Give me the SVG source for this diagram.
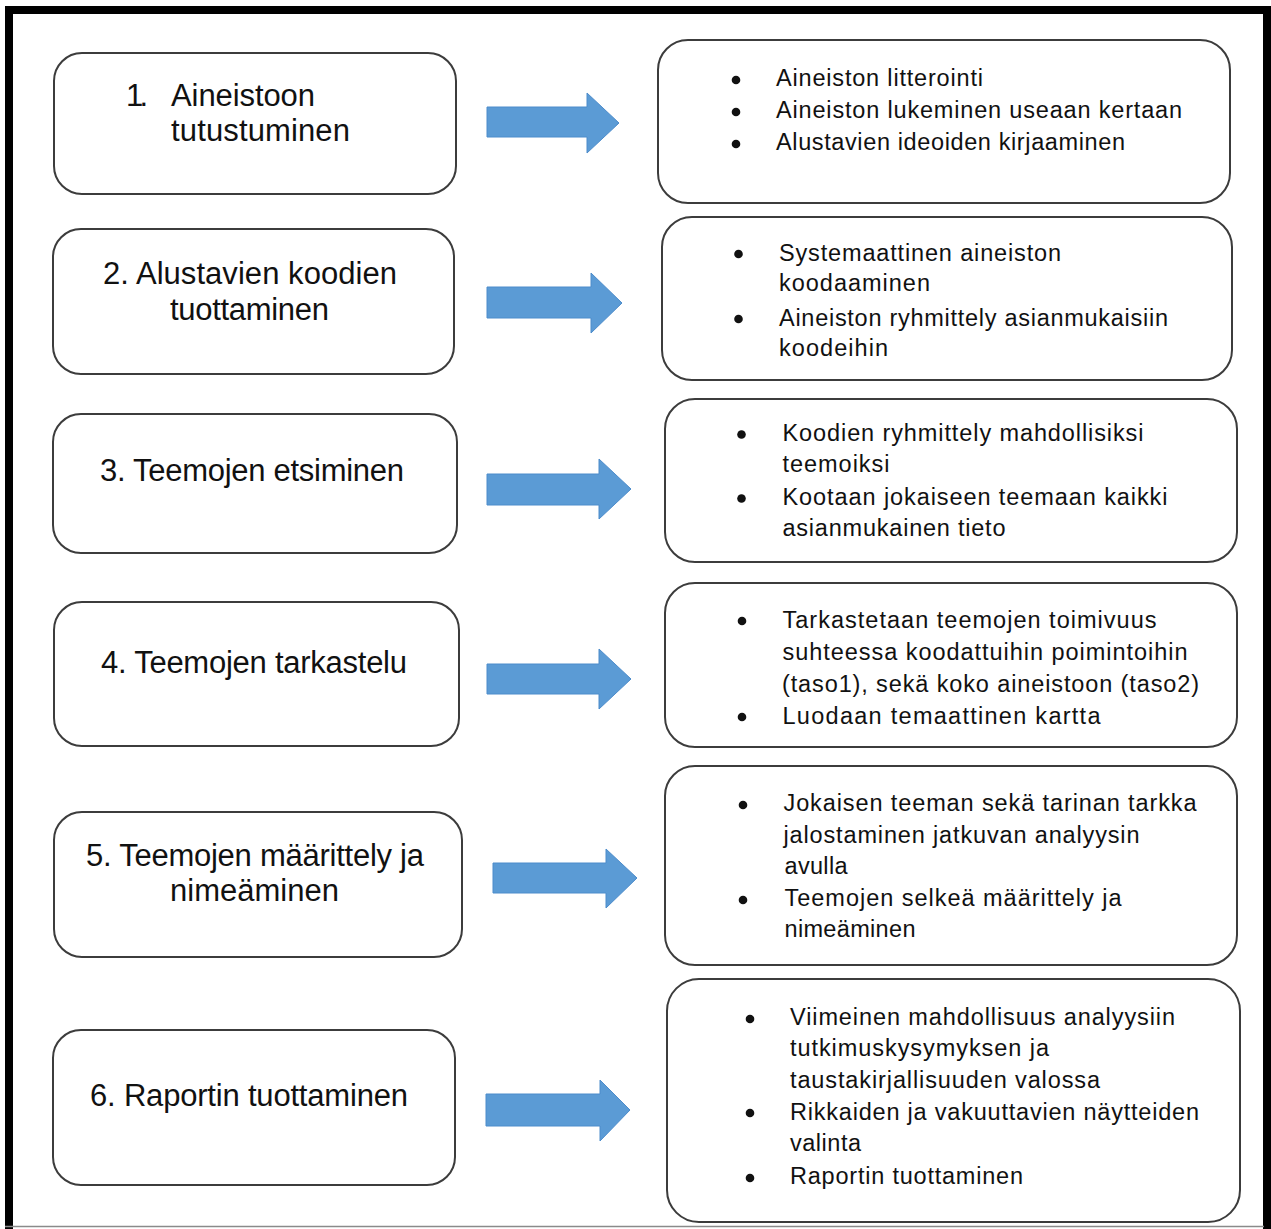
<svg xmlns="http://www.w3.org/2000/svg" width="1271" height="1229" viewBox="0 0 1271 1229">
<style>
.box{fill:#fff;stroke:#3c3c3c;stroke-width:2}
.arr{fill:#5b9bd5;stroke:#4d8ccb;stroke-width:1}
.lt{font-family:"Liberation Sans",Arial,sans-serif;font-size:31px;fill:#111}
.rt{font-family:"Liberation Sans",Arial,sans-serif;font-size:23.5px;fill:#111}
.bul{fill:#111}
</style>
<rect x="0" y="0" width="1271" height="1229" fill="#fff"/>
<g id="frame">
<path d="M9,1229 V10 H1267 V1229" fill="none" stroke="#000" stroke-width="8"/>
<line x1="5" y1="1226.5" x2="1264" y2="1226.5" stroke="#8a8a8a" stroke-width="1.5"/>
</g>
<g id="connectors">
<polygon class="arr" points="487,107 587,107 587,93 619,123 587,153 587,137 487,137"/>
<polygon class="arr" points="487,287 591,287 591,273 622,303 591,333 591,318 487,318"/>
<polygon class="arr" points="487,474 599,474 599,459 631,489 599,519 599,505 487,505"/>
<polygon class="arr" points="487,664 599,664 599,649 631,679 599,709 599,694 487,694"/>
<polygon class="arr" points="493,863 606,863 606,849 637,878 606,908 606,893 493,893"/>
<polygon class="arr" points="486,1094 600,1094 600,1080 630,1110 600,1141 600,1126 486,1126"/>
</g>
<g id="step1">
<rect class="box" x="54" y="53" width="402" height="141" rx="28"/>
<text class="lt" x="126" y="106" textLength="22">1.</text>
<text class="lt" x="171" y="106" textLength="144">Aineistoon</text>
<text class="lt" x="171" y="141" textLength="179">tutustuminen</text>
</g>
<g id="step2">
<rect class="box" x="53" y="229" width="401" height="145" rx="28"/>
<text class="lt" x="103" y="284" textLength="294">2. Alustavien koodien</text>
<text class="lt" x="170" y="320" textLength="159">tuottaminen</text>
</g>
<g id="step3">
<rect class="box" x="53" y="414" width="404" height="139" rx="28"/>
<text class="lt" x="100" y="481" textLength="304">3. Teemojen etsiminen</text>
</g>
<g id="step4">
<rect class="box" x="54" y="602" width="405" height="144" rx="28"/>
<text class="lt" x="101" y="673" textLength="306">4. Teemojen tarkastelu</text>
</g>
<g id="step5">
<rect class="box" x="54" y="812" width="408" height="145" rx="28"/>
<text class="lt" x="86" y="866" textLength="338">5. Teemojen määrittely ja</text>
<text class="lt" x="170" y="901" textLength="169">nimeäminen</text>
</g>
<g id="step6">
<rect class="box" x="53" y="1030" width="402" height="155" rx="28"/>
<text class="lt" x="90" y="1106" textLength="318">6. Raportin tuottaminen</text>
</g>
<g id="detail1">
<rect class="box" x="658" y="40" width="572" height="163" rx="30"/>
<circle class="bul" cx="736" cy="80" r="4.3"/>
<circle class="bul" cx="736" cy="112" r="4.3"/>
<circle class="bul" cx="736" cy="144" r="4.3"/>
<text class="rt" x="776" y="86" textLength="207">Aineiston litterointi</text>
<text class="rt" x="776" y="118" textLength="406">Aineiston lukeminen useaan  kertaan</text>
<text class="rt" x="776" y="150" textLength="349">Alustavien ideoiden kirjaaminen</text>
</g>
<g id="detail2">
<rect class="box" x="662" y="217" width="570" height="163" rx="30"/>
<circle class="bul" cx="738.5" cy="254" r="4.3"/>
<circle class="bul" cx="738.5" cy="319" r="4.3"/>
<text class="rt" x="779" y="261" textLength="282">Systemaattinen aineiston</text>
<text class="rt" x="779" y="291" textLength="151">koodaaminen</text>
<text class="rt" x="779" y="326" textLength="389">Aineiston ryhmittely asianmukaisiin</text>
<text class="rt" x="779" y="356" textLength="109">koodeihin</text>
</g>
<g id="detail3">
<rect class="box" x="665" y="399" width="572" height="163" rx="30"/>
<circle class="bul" cx="741.5" cy="434.5" r="4.3"/>
<circle class="bul" cx="741.5" cy="498.5" r="4.3"/>
<text class="rt" x="782.5" y="441" textLength="361">Koodien ryhmittely mahdollisiksi</text>
<text class="rt" x="782.5" y="472" textLength="107">teemoiksi</text>
<text class="rt" x="782.5" y="505" textLength="385">Kootaan jokaiseen teemaan  kaikki</text>
<text class="rt" x="782.5" y="536" textLength="223">asianmukainen tieto</text>
</g>
<g id="detail4">
<rect class="box" x="665" y="583" width="572" height="164" rx="30"/>
<circle class="bul" cx="742" cy="621" r="4.3"/>
<circle class="bul" cx="742" cy="717" r="4.3"/>
<text class="rt" x="782.5" y="628" textLength="374">Tarkastetaan  teemojen toimivuus</text>
<text class="rt" x="782.5" y="660" textLength="405">suhteessa koodattuihin poimintoihin</text>
<text class="rt" x="782" y="692" textLength="417">(taso1), sekä koko aineistoon (taso2)</text>
<text class="rt" x="782.5" y="724" textLength="318">Luodaan temaattinen kartta</text>
</g>
<g id="detail5">
<rect class="box" x="665" y="766" width="572" height="199" rx="30"/>
<circle class="bul" cx="743" cy="805" r="4.3"/>
<circle class="bul" cx="743" cy="900" r="4.3"/>
<text class="rt" x="783.5" y="811" textLength="413">Jokaisen teeman  sekä tarinan  tarkka</text>
<text class="rt" x="783.5" y="843" textLength="356">jalostaminen  jatkuvan analyysin</text>
<text class="rt" x="784.5" y="874" textLength="63">avulla</text>
<text class="rt" x="784.5" y="906" textLength="337">Teemojen  selkeä määrittely  ja</text>
<text class="rt" x="784.5" y="937" textLength="131">nimeäminen</text>
</g>
<g id="detail6">
<rect class="box" x="667" y="979" width="573" height="243" rx="32"/>
<circle class="bul" cx="750" cy="1019" r="4.3"/>
<circle class="bul" cx="750" cy="1113" r="4.3"/>
<circle class="bul" cx="750" cy="1178" r="4.3"/>
<text class="rt" x="790" y="1025" textLength="385">Viimeinen mahdollisuus analyysiin</text>
<text class="rt" x="790" y="1056" textLength="259">tutkimuskysymyksen ja</text>
<text class="rt" x="790" y="1088" textLength="310">taustakirjallisuuden valossa</text>
<text class="rt" x="790" y="1120" textLength="409">Rikkaiden ja vakuuttavien näytteiden</text>
<text class="rt" x="790" y="1151" textLength="71">valinta</text>
<text class="rt" x="790" y="1184" textLength="233">Raportin tuottaminen</text>
</g>
</svg>
